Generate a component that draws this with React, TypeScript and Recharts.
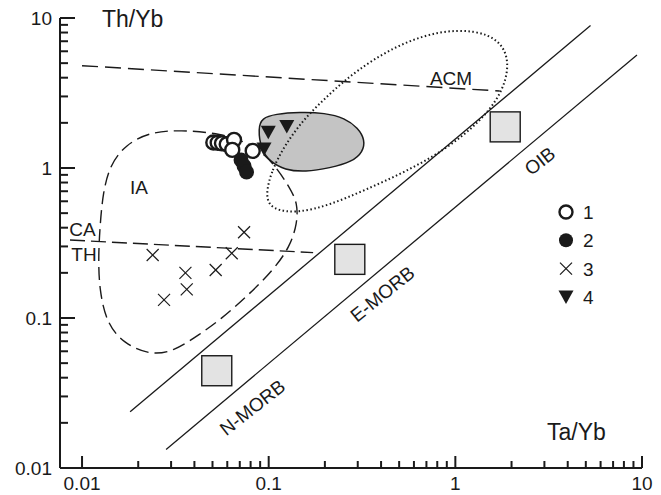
import React from "react";
import { ComposedChart, XAxis, YAxis, Scatter, Curve } from "recharts";

const FONT = '"Liberation Sans", Arial, sans-serif';
const INK = "#1a1a1a";

// axis ranges (log scales)
const xDomain = [0.00762, 10];
const yDomain = [0.01, 10];
const xTicks = [0.01, 0.02, 0.03, 0.04, 0.05, 0.06, 0.07, 0.08, 0.09, 0.1, 0.2, 0.3, 0.4, 0.5, 0.6, 0.7, 0.8, 0.9, 1, 2, 3, 4, 5, 6, 7, 8, 9, 10];
const yTicks = [0.01, 0.02, 0.03, 0.04, 0.05, 0.06, 0.07, 0.08, 0.09, 0.1, 0.2, 0.3, 0.4, 0.5, 0.6, 0.7, 0.8, 0.9, 1, 2, 3, 4, 5, 6, 7, 8, 9, 10];
const majorTicks = [0.01, 0.1, 1, 10];

// samples: x = Ta/Yb, y = Th/Yb
const group1 = [
  { x: 0.0505, y: 1.48 },
  { x: 0.0533, y: 1.475 },
  { x: 0.0562, y: 1.46 },
  { x: 0.0596, y: 1.44 },
  { x: 0.0652, y: 1.54 },
  { x: 0.0638, y: 1.32 },
  { x: 0.0821, y: 1.3 },
];
const group2 = [
  { x: 0.0711, y: 1.13 },
  { x: 0.0738, y: 1.03 },
  { x: 0.0761, y: 0.94 },
];
const group3 = [
  { x: 0.0239, y: 0.263 },
  { x: 0.0275, y: 0.132 },
  { x: 0.0358, y: 0.2 },
  { x: 0.0364, y: 0.155 },
  { x: 0.052, y: 0.209 },
  { x: 0.0634, y: 0.27 },
  { x: 0.0738, y: 0.373 },
];
const group4 = [
  { x: 0.0995, y: 1.73 },
  { x: 0.125, y: 1.89 },
  { x: 0.0944, y: 1.34 },
];
// N-MORB, E-MORB, OIB reference compositions
const reference = [
  { x: 0.0527, y: 0.0445 },
  { x: 0.272, y: 0.246 },
  { x: 1.85, y: 1.88 },
];

// mantle array boundaries
const arrayUpper = [
  { x: 0.0181, y: 0.0237 },
  { x: 5.3, y: 8.9 },
];
const arrayLower = [
  { x: 0.0282, y: 0.0133 },
  { x: 9.4, y: 5.67 },
];
const topDashed = [
  { x: 0.01, y: 4.81 },
  { x: 1.73, y: 3.26 },
];
const caThDivide = [
  { x: 0.00862, y: 0.331 },
  { x: 0.173, y: 0.273 },
];

// field outlines
const iaField = [
  { x: 0.01296, y: 0.692 },
  { x: 0.01413, y: 1.047 },
  { x: 0.017, y: 1.423 },
  { x: 0.0231, y: 1.738 },
  { x: 0.0335, y: 1.79 },
  { x: 0.0549, y: 1.71 },
  { x: 0.0845, y: 1.423 },
  { x: 0.109, y: 1.031 },
  { x: 0.13, y: 0.736 },
  { x: 0.1427, y: 0.584 },
  { x: 0.1423, y: 0.428 },
  { x: 0.13, y: 0.299 },
  { x: 0.106, y: 0.209 },
  { x: 0.0763, y: 0.139 },
  { x: 0.0549, y: 0.097 },
  { x: 0.0429, y: 0.0782 },
  { x: 0.0308, y: 0.0596 },
  { x: 0.0231, y: 0.0567 },
  { x: 0.01665, y: 0.0678 },
  { x: 0.01356, y: 0.0922 },
  { x: 0.01238, y: 0.154 },
  { x: 0.01223, y: 0.256 },
  { x: 0.01249, y: 0.417 },
];
const acmField = [
  { x: 0.0955, y: 0.651 },
  { x: 0.104, y: 0.97 },
  { x: 0.122, y: 1.42 },
  { x: 0.153, y: 2.09 },
  { x: 0.196, y: 2.84 },
  { x: 0.256, y: 3.86 },
  { x: 0.358, y: 5.25 },
  { x: 0.537, y: 6.92 },
  { x: 0.828, y: 8.19 },
  { x: 1.27, y: 8.32 },
  { x: 1.74, y: 7.13 },
  { x: 1.96, y: 5.09 },
  { x: 1.8, y: 3.21 },
  { x: 1.36, y: 2.03 },
  { x: 0.88, y: 1.32 },
  { x: 0.537, y: 0.94 },
  { x: 0.328, y: 0.713 },
  { x: 0.213, y: 0.567 },
  { x: 0.144, y: 0.501 },
  { x: 0.104, y: 0.525 },
];
const greyField = [
  { x: 0.0877, y: 1.85 },
  { x: 0.0921, y: 2.15 },
  { x: 0.108, y: 2.29 },
  { x: 0.147, y: 2.36 },
  { x: 0.2, y: 2.33 },
  { x: 0.256, y: 2.15 },
  { x: 0.301, y: 1.85 },
  { x: 0.328, y: 1.54 },
  { x: 0.32, y: 1.28 },
  { x: 0.28, y: 1.1 },
  { x: 0.213, y: 1.0 },
  { x: 0.157, y: 0.94 },
  { x: 0.122, y: 0.97 },
  { x: 0.102, y: 1.1 },
  { x: 0.091, y: 1.32 },
];

const fieldLabels = [
  { x: 0.948, y: 3.98, text: "ACM", angle: 0 },
  { x: 0.0202, y: 0.747, text: "IA", angle: 0 },
  { x: 0.01006, y: 0.389, text: "CA", angle: 0 },
  { x: 0.01025, y: 0.267, text: "TH", angle: 0 },
  { x: 2.84, y: 1.113, text: "OIB", angle: -38 },
  { x: 0.407, y: 0.1445, text: "E-MORB", angle: -39 },
  { x: 0.0819, y: 0.0253, text: "N-MORB", angle: -38 },
];

const legendLabels = ["1", "2", "3", "4"];

const none = () => <g />;

// tick marks point into the plot; labels only on decades
function XTick(props: any) {
  const { x, y, payload } = props;
  const major = majorTicks.includes(payload.value);
  const len = major ? 12 : 7;
  return (
    <g>
      <line x1={x} x2={x} y1={y} y2={y - len} stroke={INK} strokeWidth={2} />
      {major && (
        <text x={x} y={Number(y) + 22} textAnchor="middle" fontSize={19} fontFamily={FONT} fill={INK}>
          {payload.value}
        </text>
      )}
    </g>
  );
}

function YTick(props: any) {
  const { x, y, payload } = props;
  const major = majorTicks.includes(payload.value);
  const len = major ? 15 : 8;
  return (
    <g>
      <line x1={x} x2={Number(x) + len} y1={y} y2={y} stroke={INK} strokeWidth={2} />
      {major && (
        <text x={Number(x) - 8} y={Number(y) + 7} textAnchor="end" fontSize={19} fontFamily={FONT} fill={INK}>
          {payload.value}
        </text>
      )}
    </g>
  );
}

function GreyBlob(props: any) {
  return <Curve points={props.points} type="basisClosed" fill="#c4c4c4" stroke={INK} strokeWidth={1.5} />;
}

const openCircle = (p: any) => <circle cx={p.cx} cy={p.cy} r={7} fill="#fff" stroke={INK} strokeWidth={2.4} />;
const filledCircle = (p: any) => <circle cx={p.cx} cy={p.cy} r={7.5} fill={INK} />;
const cross = (p: any) => (
  <g stroke={INK} strokeWidth={1.2}>
    <line x1={p.cx - 6} y1={p.cy - 6} x2={p.cx + 6} y2={p.cy + 6} />
    <line x1={p.cx - 6} y1={p.cy + 6} x2={p.cx + 6} y2={p.cy - 6} />
  </g>
);
const triangle = (p: any) => (
  <path d={`M${p.cx - 7.5},${p.cy - 6.5} L${p.cx + 7.5},${p.cy - 6.5} L${p.cx},${p.cy + 7} Z`} fill={INK} />
);
const square = (p: any) => (
  <rect x={p.cx - 15} y={p.cy - 15} width={30} height={30} fill="#e3e3e3" stroke={INK} strokeWidth={1.4} />
);
const labelShape = (p: any) => (
  <text
    x={p.cx}
    y={p.cy}
    textAnchor="middle"
    dominantBaseline="central"
    fontSize={19}
    fontFamily={FONT}
    fill={INK}
    transform={`rotate(${p.payload.angle}, ${p.cx}, ${p.cy})`}
  >
    {p.payload.text}
  </text>
);

const legendGlyphs = [
  <circle cx={0} cy={0} r={6.5} fill="#fff" stroke={INK} strokeWidth={2.4} />,
  <circle cx={0} cy={0} r={7} fill={INK} />,
  <g stroke={INK} strokeWidth={1.2}>
    <line x1={-6} y1={-6} x2={6} y2={6} />
    <line x1={-6} y1={6} x2={6} y2={-6} />
  </g>,
  <path d="M-7.5,-6.5 L7.5,-6.5 L0,7 Z" fill={INK} />,
];

export default function App() {
  return (
    <div style={{ position: "absolute", left: 0, top: 0, width: 661, height: 495, background: "#fff" }}>
      <ComposedChart width={661} height={495} margin={{ top: 18, right: 19, bottom: 0, left: 0 }}>
        <XAxis
          dataKey="x"
          type="number"
          scale="log"
          domain={xDomain}
          allowDataOverflow
          ticks={xTicks}
          interval={0}
          tick={<XTick />}
          tickLine={false}
          tickSize={0}
          tickMargin={0}
          height={27}
          axisLine={{ stroke: INK, strokeWidth: 2 }}
        />
        <YAxis
          dataKey="y"
          type="number"
          scale="log"
          domain={yDomain}
          allowDataOverflow
          ticks={yTicks}
          interval={0}
          tick={<YTick />}
          tickLine={false}
          tickSize={0}
          tickMargin={0}
          width={60}
          axisLine={{ stroke: INK, strokeWidth: 2 }}
        />
        <Scatter data={greyField} line={<GreyBlob />} shape={none} isAnimationActive={false} />
        <Scatter data={arrayUpper} line={{ stroke: INK, strokeWidth: 1.3 }} shape={none} isAnimationActive={false} />
        <Scatter data={arrayLower} line={{ stroke: INK, strokeWidth: 1.3 }} shape={none} isAnimationActive={false} />
        <Scatter data={topDashed} line={{ stroke: INK, strokeWidth: 1.4, strokeDasharray: "16 7" }} shape={none} isAnimationActive={false} />
        <Scatter data={caThDivide} line={{ stroke: INK, strokeWidth: 1.4, strokeDasharray: "15 6" }} shape={none} isAnimationActive={false} />
        <Scatter
          data={iaField}
          line={{ stroke: INK, strokeWidth: 1.4, strokeDasharray: "13 6" }}
          lineJointType="basisClosed"
          shape={none}
          isAnimationActive={false}
        />
        <Scatter
          data={acmField}
          line={{ stroke: INK, strokeWidth: 2, strokeDasharray: "1.5 2.5" }}
          lineJointType="basisClosed"
          shape={none}
          isAnimationActive={false}
        />
        <Scatter data={reference} shape={square} isAnimationActive={false} />
        <Scatter data={group3} shape={cross} isAnimationActive={false} />
        <Scatter data={group1} shape={openCircle} isAnimationActive={false} />
        <Scatter data={group2} shape={filledCircle} isAnimationActive={false} />
        <Scatter data={group4} shape={triangle} isAnimationActive={false} />
        <Scatter data={fieldLabels} shape={labelShape} isAnimationActive={false} />
      </ComposedChart>
      <svg width={661} height={495} style={{ position: "absolute", left: 0, top: 0, pointerEvents: "none" }}>
        <text x={102} y={27} fontSize={23} fontFamily={FONT} fill={INK}>Th/Yb</text>
        <text x={547} y={440} fontSize={23} fontFamily={FONT} fill={INK}>Ta/Yb</text>
        {legendLabels.map((label, i) => (
          <g key={label} transform={`translate(566, ${212 + i * 28.3})`}>
            {legendGlyphs[i]}
            <text x={17} y={7} fontSize={19} fontFamily={FONT} fill={INK}>{label}</text>
          </g>
        ))}
      </svg>
    </div>
  );
}
